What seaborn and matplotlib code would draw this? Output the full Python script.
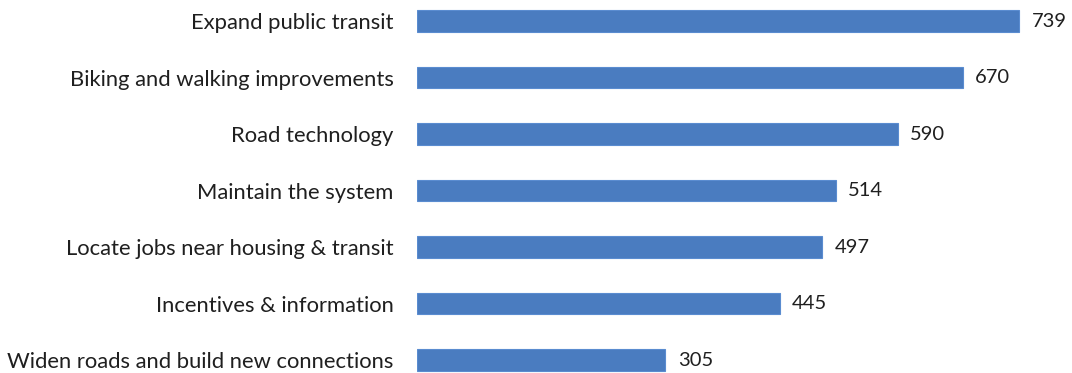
import matplotlib
matplotlib.use("Agg")
import matplotlib.pyplot as plt
import seaborn as sns
import pandas as pd

categories = [
    "Expand public transit",
    "Biking and walking improvements",
    "Road technology",
    "Maintain the system",
    "Locate jobs near housing & transit",
    "Incentives & information",
    "Widen roads and build new connections",
]
votes = [739, 670, 590, 514, 497, 445, 305]

df = pd.DataFrame({"category": categories, "votes": votes})

sns.set_theme(style="white")
plt.rcParams["font.family"] = ["Lato", "DejaVu Sans"]

fig = plt.figure(figsize=(10.72, 3.73), dpi=100)
ax = fig.add_axes([417 / 1072, 0, 1 - 417 / 1072, 1])

sns.barplot(data=df, x="votes", y="category", orient="h", color="#4a7cc0",
            saturation=1, width=0.38, ax=ax, edgecolor="#5a8cd0", linewidth=0.8)

ax.set_xlim(0, 804)
ax.set_ylim(6.23, -0.372)
ax.set_xlabel("")
ax.set_ylabel("")
ax.set_xticks([])
for s in ax.spines.values():
    s.set_visible(False)
ax.tick_params(axis="y", length=0, pad=17, labelsize=15.8, labelcolor="#1f1f1f")

for i, v in enumerate(votes):
    ax.annotate(str(v), xy=(v, i), xytext=(9, 0), textcoords="offset points",
                va="center", ha="left", fontsize=14.5, color="#1f1f1f")

fig.savefig("out.png", dpi=100)
